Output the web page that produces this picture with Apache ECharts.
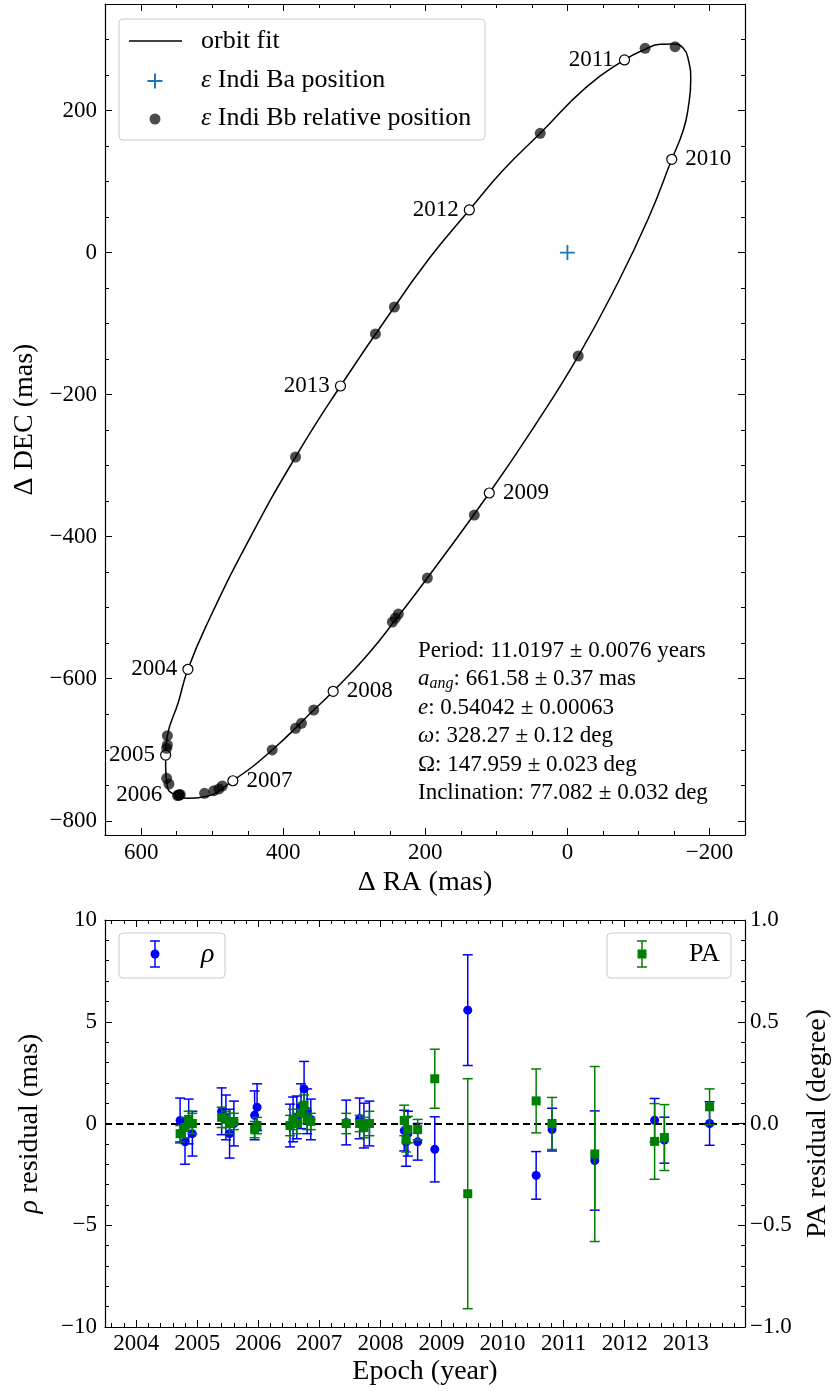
<!DOCTYPE html>
<html>
<head>
<meta charset="utf-8">
<script src="https://cdn.jsdelivr.net/npm/echarts@6/dist/echarts.min.js"></script>
<style>
  html, body { margin: 0; padding: 0; background: #fff; }
  #chart { width: 835px; height: 1391px; }
</style>
</head>
<body>
<div id="chart"></div>
<script>
const FONT = '"Liberation Serif", "DejaVu Serif", serif';

// ---- orbit panel -------------------------------------------------------
// fitted orbit trace, ΔRA / ΔDEC in mas (closed loop)
const orbitRA  = [243.6, 319.5, 382.8, 446.1, 504.7, 534.3, 548.1, 563.2, 565.6, 565.6,
                  563.2, 556.2, 535.1, 510.8, 471.0, 415.6, 357.1, 329.8, 281.6, 238.0,
                  197.2, 110.0, 45.3, -15.2, -67.2, -114.0, -146.9, -163.2, -170.3, -173.6,
                  -170.3, -163.2, -149.2, -130.5, -109.4, -80.3, -27.4, 38.3, 90.3, 138.1,
                  193.0, 243.6];
const orbitDEC = [-76.6, -187.8, -287.8, -400.4, -517.3, -586.7, -634.2, -680.2, -707.4, -723.8,
                  -752.0, -761.3, -768.3, -766.1, -743.6, -700.3, -644.0, -617.7, -566.6, -511.7,
                  -458.2, -338.5, -242.7, -145.6, -49.9, 48.3, 131.3, 172.6, 205.4, 243.0,
                  271.2, 287.6, 293.7, 293.3, 286.2, 271.2, 233.6, 167.9, 116.3, 60.0,
                  -6.2, -76.6];

// measured relative positions of ε Indi Bb
const obsRA  = [563.2, 563.2, 564.2, 564.2, 561.0, 546.9, 549.0, 545.0, 510.8, 497.7,
                490.7, 485.9, 415.6, 357.1, 374.4, 382.8, 238.0, 242.2, 246.4, 197.2,
                131.1, -15.2, -151.6, -109.4, 38.3, 243.6, 270.3, 382.8];
const obsDEC = [-680.2, -693.3, -697.9, -740.2, -748.2, -763.7, -764.5, -763.0, -761.3, -757.6,
                -755.2, -751.0, -700.3, -644.0, -662.7, -669.8, -508.9, -514.5, -520.1, -458.2,
                -369.5, -145.6, 289.9, 287.6, 167.9, -76.6, -114.6, -287.8];

// position of ε Indi Ba (origin)
const baRA = [0];
const baDEC = [0];

// orbit position on 1 January of each year
const yearNames = ['2004', '2005', '2006', '2007', '2008', '2009', '2010', '2011', '2012', '2013'];
const yearRA    = [534.3, 565.6, 546.9, 471.0, 329.8, 110.0, -146.9, -80.3, 138.1, 319.5];
const yearDEC   = [-586.7, -707.4, -763.7, -743.6, -617.7, -338.5, 131.3, 271.2, 60.0, -187.8];
const yearSide  = ['left', 'left', 'left', 'right', 'right', 'right', 'right', 'left', 'left', 'left'];

const raTicks  = [600, 400, 200, 0, -200];
const decTicks = [200, 0, -200, -400, -600, -800];

// ---- residual panel ----------------------------------------------------
const epochs = [2004.72, 2004.80, 2004.86, 2004.92,
                2005.40, 2005.47, 2005.53, 2005.60,
                2005.94, 2005.98,
                2006.52, 2006.57, 2006.63, 2006.70, 2006.75, 2006.80, 2006.86,
                2007.44, 2007.66, 2007.73, 2007.82,
                2008.39, 2008.42, 2008.45, 2008.61, 2008.89,
                2009.43, 2010.55, 2010.81, 2011.51,
                2012.49, 2012.65, 2013.39];
const rhoRes = [0.15, -0.9, 0.1, -0.5,
                0.6, 0.3, -0.5, 0.0,
                0.4, 0.8,
                -0.1, 0.2, 0.3, 0.85, 1.7, 0.6, 0.2,
                0.05, 0.25, -0.1, 0.0,
                -0.35, -0.9, -0.5, -0.9, -1.27,
                5.57, -2.55, -0.3, -1.82,
                0.16, -0.82, 0.0];
const rhoErr = [1.1, 1.1, 1.1, 1.1,
                1.15, 1.1, 1.2, 1.1,
                1.2, 1.15,
                1.05, 1.1, 1.05, 1.1, 1.35, 1.1, 1.0,
                1.1, 1.0, 1.1, 1.1,
                1.0, 1.2, 1.1, 0.9, 1.6,
                2.72, 1.17, 1.05, 2.44,
                1.07, 1.13, 1.07];
const paRes  = [-0.05, -0.02, 0.02, 0.0,
                0.03, 0.02, 0.0, 0.01,
                -0.03, -0.01,
                -0.01, 0.02, 0.0, 0.05, 0.09, 0.02, 0.01,
                0.0, 0.0, -0.02, 0.0,
                0.015, -0.08, -0.03, -0.03, 0.22,
                -0.345, 0.111, 0.0, -0.15,
                -0.088, -0.069, 0.082];
const paErr  = [0.04, 0.05, 0.04, 0.05,
                0.05, 0.04, 0.05, 0.04,
                0.04, 0.04,
                0.05, 0.05, 0.05, 0.05, 0.05, 0.05, 0.04,
                0.05, 0.04, 0.05, 0.06,
                0.075, 0.06, 0.065, 0.05, 0.145,
                0.565, 0.157, 0.128, 0.43,
                0.186, 0.162, 0.088];

const yearTicks = [2004, 2005, 2006, 2007, 2008, 2009, 2010, 2011, 2012, 2013];

// ---- helpers -----------------------------------------------------------
const minus = v => String(v).replace('-', '\u2212');

function stepValues(lo, hi, step, skipEvery) {
  const out = [];
  const n0 = Math.ceil(lo / step - 1e-9), n1 = Math.floor(hi / step + 1e-9);
  for (let n = n0; n <= n1; n++) {
    if (skipEvery && n % skipEvery === 0) continue;
    out.push(+(n * step).toFixed(6));
  }
  return out;
}

const RA_MIN = -250, RA_MAX = 651, DEC_MIN = -820, DEC_MAX = 350;
const T_MIN = 2003.49, T_MAX = 2013.97;

const raMinor   = stepValues(RA_MIN, RA_MAX, 50, 4);
const decMinor  = stepValues(DEC_MIN, DEC_MAX, 50, 4);
const yearMinor = stepValues(T_MIN, T_MAX, 0.2, 5);

const labelFont = { fontFamily: FONT, fontSize: 23, color: '#000' };
const nameFont  = { fontFamily: FONT, fontSize: 28, color: '#000' };

// an axis that only carries inward ticks (and optionally the frame line)
function tickAxis(extra, values, len, withLine) {
  return Object.assign({
    type: 'value',
    axisLine: { show: withLine, onZero: false, lineStyle: { color: '#000', width: 1.2 } },
    axisTick: { show: true, inside: true, length: len, customValues: values,
                lineStyle: { color: '#000', width: 1 } },
    axisLabel: { show: false },
    splitLine: { show: false },
    silent: true
  }, extra);
}

function errorBars(color) {
  return function (params, api) {
    const x = api.value(0), y = api.value(1), e = api.value(2);
    const hi = api.coord([x, y + e]);
    const lo = api.coord([x, y - e]);
    const w = 5;
    const style = { stroke: color, lineWidth: 1.5 };
    return {
      type: 'group',
      children: [
        { type: 'line', shape: { x1: hi[0], y1: hi[1], x2: lo[0], y2: lo[1] }, style },
        { type: 'line', shape: { x1: hi[0] - w, y1: hi[1], x2: hi[0] + w, y2: hi[1] }, style },
        { type: 'line', shape: { x1: lo[0] - w, y1: lo[1], x2: lo[0] + w, y2: lo[1] }, style }
      ]
    };
  };
}

const PLUS = 'path://M7,0h2v7h7v2h-7v7h-2v-7h-7v-2h7Z';

// ---- axes --------------------------------------------------------------
const orbitX = { gridIndex: 0, min: RA_MIN, max: RA_MAX, inverse: true };
const orbitY = { gridIndex: 0, min: DEC_MIN, max: DEC_MAX };
const resX   = { gridIndex: 1, min: T_MIN, max: T_MAX };

const xAxis = [
  tickAxis(Object.assign({}, orbitX, {
    position: 'bottom',
    axisLabel: Object.assign({ show: true, customValues: raTicks, margin: 6, formatter: minus }, labelFont),
    name: 'Δ RA (mas)', nameLocation: 'middle', nameGap: 31, nameTextStyle: nameFont
  }), raTicks, 7, true),
  tickAxis(Object.assign({}, orbitX, { position: 'bottom' }), raMinor, 4, false),
  tickAxis(Object.assign({}, orbitX, { position: 'top' }), raTicks, 7, true),
  tickAxis(Object.assign({}, orbitX, { position: 'top' }), raMinor, 4, false),

  tickAxis(Object.assign({}, resX, {
    position: 'bottom',
    axisLabel: Object.assign({ show: true, customValues: yearTicks, margin: 5, formatter: v => String(v) }, labelFont),
    name: 'Epoch (year)', nameLocation: 'middle', nameGap: 31, nameTextStyle: nameFont
  }), yearTicks, 7, true),
  tickAxis(Object.assign({}, resX, { position: 'bottom' }), yearMinor, 4, false),
  tickAxis(Object.assign({}, resX, { position: 'top' }), yearTicks, 7, true),
  tickAxis(Object.assign({}, resX, { position: 'top' }), yearMinor, 4, false)
];

const yAxis = [
  tickAxis(Object.assign({}, orbitY, {
    position: 'left',
    axisLabel: Object.assign({ show: true, customValues: decTicks, margin: 8, formatter: minus }, labelFont),
    name: 'Δ DEC (mas)', nameLocation: 'middle', nameGap: 61, nameRotate: 90, nameTextStyle: nameFont
  }), decTicks, 7, true),
  tickAxis(Object.assign({}, orbitY, { position: 'left' }), decMinor, 4, false),
  tickAxis(Object.assign({}, orbitY, { position: 'right' }), decTicks, 7, true),
  tickAxis(Object.assign({}, orbitY, { position: 'right' }), decMinor, 4, false),

  {
    type: 'value', gridIndex: 1, position: 'left', min: -10, max: 10, interval: 5,
    axisLine: { show: true, onZero: false, lineStyle: { color: '#000', width: 1.2 } },
    axisTick: { show: true, inside: true, length: 7, lineStyle: { color: '#000', width: 1 } },
    minorTick: { show: true, splitNumber: 5, length: 4, lineStyle: { color: '#000', width: 1 } },
    axisLabel: Object.assign({ margin: 8, formatter: minus }, labelFont),
    splitLine: { show: false },
    name: '{i|ρ} residual (mas)', nameLocation: 'middle', nameGap: 61, nameRotate: 90,
    nameTextStyle: Object.assign({ rich: { i: { fontFamily: FONT, fontSize: 28, fontStyle: 'italic', color: '#000' } } }, nameFont)
  },
  {
    type: 'value', gridIndex: 1, position: 'right', min: -1, max: 1, interval: 0.5,
    axisLine: { show: true, onZero: false, lineStyle: { color: '#000', width: 1.2 } },
    axisTick: { show: true, inside: true, length: 7, lineStyle: { color: '#000', width: 1 } },
    minorTick: { show: true, splitNumber: 5, length: 4, lineStyle: { color: '#000', width: 1 } },
    axisLabel: Object.assign({ margin: 5, formatter: v => minus(v.toFixed(1)) }, labelFont),
    splitLine: { show: false },
    name: 'PA residual (degree)', nameLocation: 'middle', nameGap: 59, nameRotate: 90,
    nameTextStyle: nameFont
  }
];

// ---- series ------------------------------------------------------------
const opaque = { opacity: 1 };
const series = [
  {
    name: 'orbit fit', type: 'line', xAxisIndex: 0, yAxisIndex: 0,
    data: orbitRA.map((x, i) => [x, orbitDEC[i]]),
    smooth: 0.5, symbol: 'none', silent: true,
    lineStyle: { color: '#000', width: 1.5 }, z: 2
  },
  {
    name: 'yearly epochs', type: 'scatter', xAxisIndex: 0, yAxisIndex: 0,
    data: yearRA.map((x, i) => ({
      name: yearNames[i], value: [x, yearDEC[i]],
      label: { position: yearSide[i], distance: yearSide[i] === 'left' ? (i === 2 ? 11 : 5) : 8 }
    })),
    symbol: 'circle', symbolSize: 10,
    itemStyle: Object.assign({ color: '#fff', borderColor: '#000', borderWidth: 1.2 }, opaque),
    label: Object.assign({ show: true, formatter: '{b}', opacity: 1 }, labelFont),
    z: 3
  },
  {
    name: 'ε Indi Bb relative position', type: 'scatter', xAxisIndex: 0, yAxisIndex: 0,
    data: obsRA.map((x, i) => [x, obsDEC[i]]),
    symbol: 'circle', symbolSize: 11,
    itemStyle: Object.assign({ color: 'rgba(0,0,0,0.7)' }, opaque), z: 4
  },
  {
    name: 'ε Indi Ba position', type: 'scatter', xAxisIndex: 0, yAxisIndex: 0,
    data: baRA.map((x, i) => [x, baDEC[i]]),
    symbol: PLUS, symbolSize: 15,
    itemStyle: Object.assign({ color: '#1f77b4' }, opaque), z: 5
  },

  {
    name: 'ρ error', type: 'custom', xAxisIndex: 4, yAxisIndex: 4,
    renderItem: errorBars('#0000ff'),
    data: epochs.map((t, i) => [t, rhoRes[i], rhoErr[i]]),
    encode: { x: 0, y: 1 }, z: 3, silent: true
  },
  {
    name: 'ρ', type: 'scatter', xAxisIndex: 4, yAxisIndex: 4,
    data: epochs.map((t, i) => [t, rhoRes[i]]),
    symbol: 'circle', symbolSize: 9, itemStyle: Object.assign({ color: '#0000ff' }, opaque), z: 4,
    markLine: {
      silent: true, symbol: ['none', 'none'], label: { show: false },
      lineStyle: { color: '#000', width: 1.8, type: [7, 4], opacity: 1 },
      data: [{ yAxis: 0 }]
    }
  },
  {
    name: 'PA error', type: 'custom', xAxisIndex: 4, yAxisIndex: 5,
    renderItem: errorBars('#008000'),
    data: epochs.map((t, i) => [t, paRes[i], paErr[i]]),
    encode: { x: 0, y: 1 }, z: 5, silent: true
  },
  {
    name: 'PA', type: 'scatter', xAxisIndex: 4, yAxisIndex: 5,
    data: epochs.map((t, i) => [t, paRes[i]]),
    symbol: 'rect', symbolSize: 9, itemStyle: Object.assign({ color: '#008000' }, opaque), z: 6
  }
];

// ---- legends and annotation -------------------------------------------
const legendBox = (x, y, w, h) => ({
  type: 'rect', z: 100, shape: { x, y, width: w, height: h, r: 4 },
  style: { fill: 'rgba(255,255,255,0.8)', stroke: '#cccccc', lineWidth: 1 }
});
const legText = (x, y, text, extra) => ({
  type: 'text', z: 101,
  style: Object.assign({ x, y, text, fontFamily: FONT, fontSize: 26, fill: '#000', verticalAlign: 'middle', align: 'left' }, extra || {})
});
const seg = (x1, y1, x2, y2, color, w) => ({
  type: 'line', z: 101, shape: { x1, y1, x2, y2 }, style: { stroke: color, lineWidth: w }
});
const italicE = { rich: { e: { fontFamily: FONT, fontSize: 26, fontStyle: 'italic' } } };

const graphic = [
  // orbit panel legend
  legendBox(119, 19, 366, 121),
  seg(129, 41, 182, 41, '#000', 1.5),
  seg(147.5, 81, 162.5, 81, '#1f77b4', 2),
  seg(155, 73.5, 155, 88.5, '#1f77b4', 2),
  { type: 'circle', z: 101, shape: { cx: 155, cy: 119, r: 5.5 }, style: { fill: 'rgba(0,0,0,0.7)' } },
  legText(201, 41, 'orbit fit'),
  legText(201, 80, '{e|ε} Indi Ba position', italicE),
  legText(201, 118, '{e|ε} Indi Bb relative position', italicE),

  // orbital elements
  {
    type: 'text', z: 101,
    style: {
      x: 418, y: 636.5, fontFamily: FONT, fontSize: 23, lineHeight: 28.5, fill: '#000',
      text: [
        'Period: 11.0197 ± 0.0076 years',
        '{i|a}{s|ang}: 661.58 ± 0.37 mas',
        '{i|e}: 0.54042 ± 0.00063',
        '{i|ω}: 328.27 ± 0.12 deg',
        'Ω: 147.959 ± 0.023 deg',
        'Inclination: 77.082 ± 0.032 deg'
      ].join('\n'),
      rich: {
        i: { fontFamily: FONT, fontSize: 23, fontStyle: 'italic' },
        s: { fontFamily: FONT, fontSize: 16, fontStyle: 'italic', lineHeight: 16, padding: [10, 0, 0, 0] }
      }
    }
  },

  // residual legends
  legendBox(119, 933, 106, 45),
  seg(155, 941, 155, 967, '#0000ff', 1.5),
  seg(150, 941, 160, 941, '#0000ff', 1.5),
  seg(150, 967, 160, 967, '#0000ff', 1.5),
  { type: 'circle', z: 101, shape: { cx: 155, cy: 954, r: 4.5 }, style: { fill: '#0000ff' } },
  legText(201, 955, 'ρ', { fontStyle: 'italic', fontSize: 28 }),

  legendBox(607, 933, 124, 45),
  seg(642, 941, 642, 967, '#008000', 1.5),
  seg(637, 941, 647, 941, '#008000', 1.5),
  seg(637, 967, 647, 967, '#008000', 1.5),
  { type: 'rect', z: 101, shape: { x: 637.5, y: 949.5, width: 9, height: 9 }, style: { fill: '#008000' } },
  legText(689, 954, 'PA')
];

const chart = echarts.init(document.getElementById('chart'), null, { renderer: 'canvas' });
chart.setOption({
  animation: false,
  backgroundColor: '#fff',
  grid: [
    { left: 105, top: 4, width: 640, height: 831, outerBoundsMode: 'none', containLabel: false },
    { left: 105, top: 920, width: 640, height: 407, outerBoundsMode: 'none', containLabel: false }
  ],
  xAxis,
  yAxis,
  series,
  graphic
});
</script>
</body>
</html>
